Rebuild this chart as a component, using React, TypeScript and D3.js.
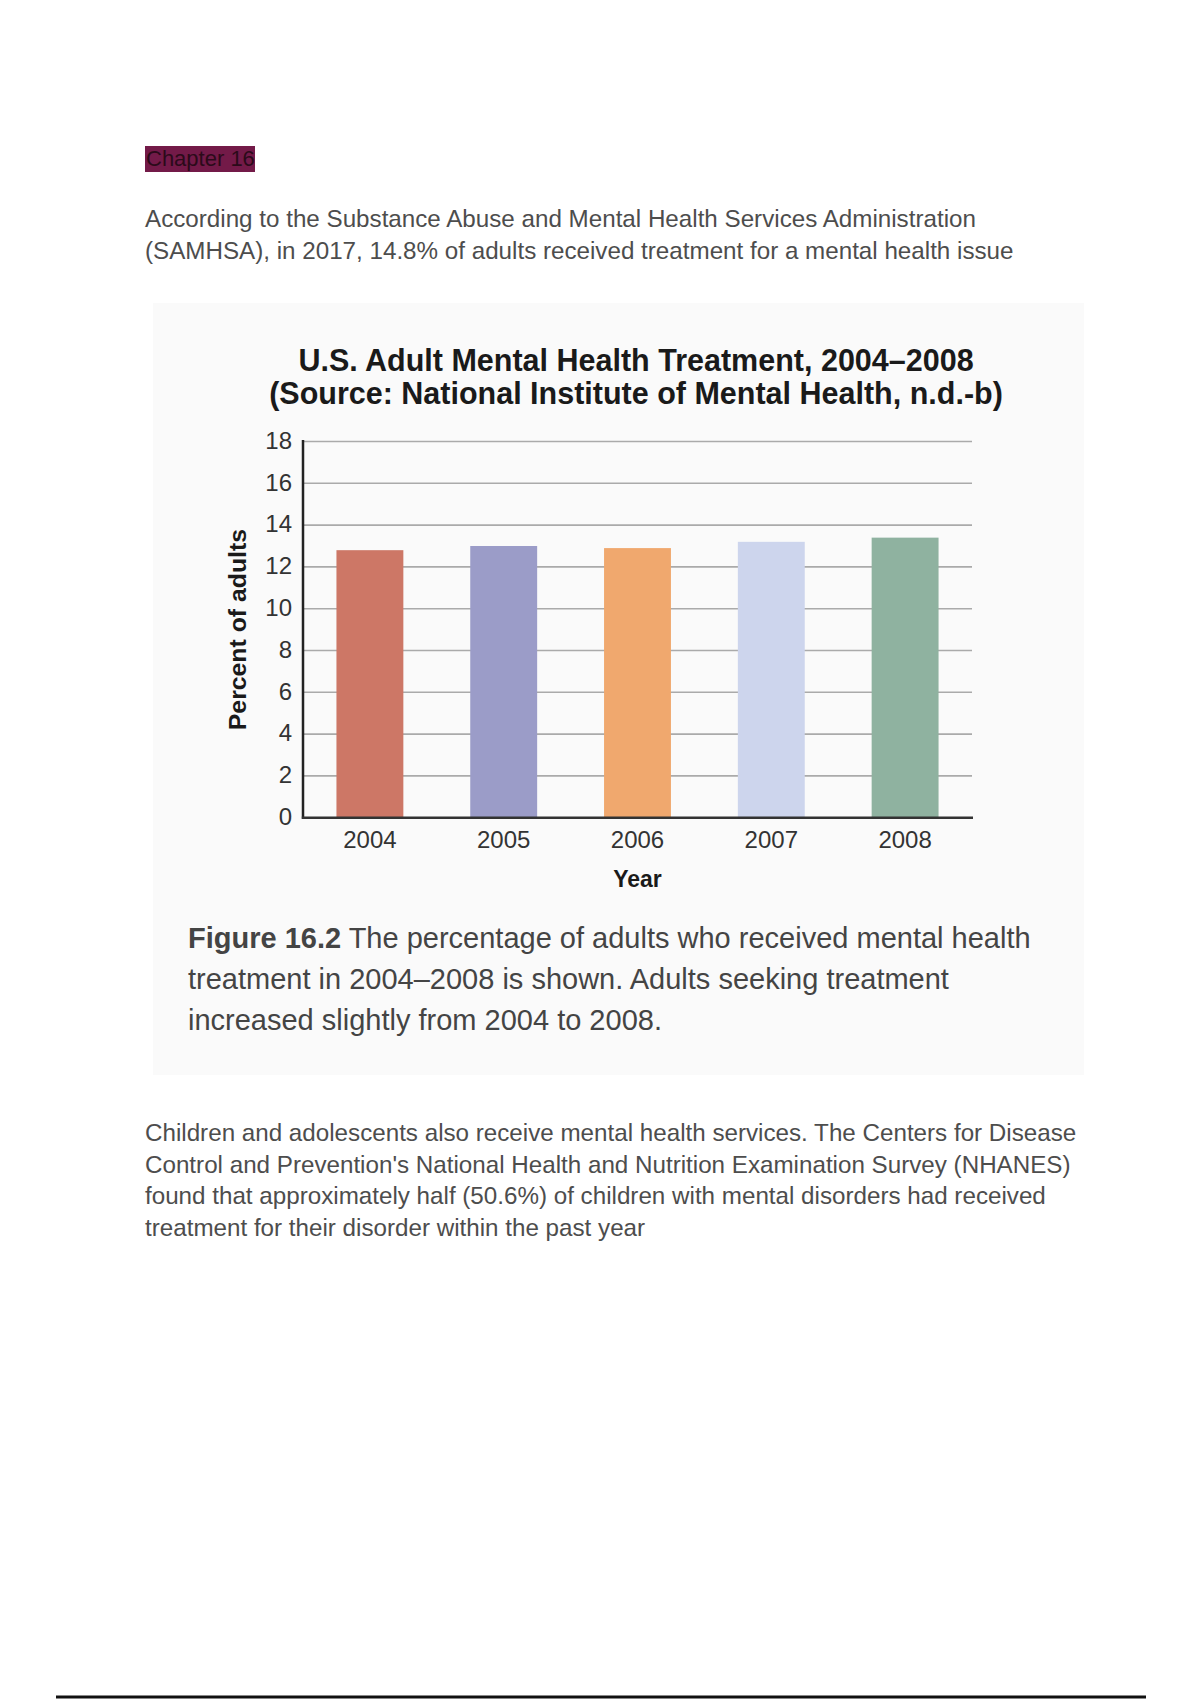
import React from "react";
import * as d3 from "d3";

// ---- Data ----
const years: string[] = ["2004", "2005", "2006", "2007", "2008"];
const percents: number[] = [12.8, 13.0, 12.9, 13.2, 13.4];
const barColors: string[] = ["#cd7766", "#9b9cc8", "#f0a86e", "#cdd5ed", "#8fb2a0"];
const yDomain: [number, number] = [0, 18];

const chartTitle: string[] = [
  "U.S. Adult Mental Health Treatment, 2004–2008",
  "(Source: National Institute of Mental Health, n.d.-b)",
];
const yLabel = "Percent of adults";
const xLabel = "Year";
const chapterLabel = "Chapter 16";
const introLines: string[] = [
  "According to the Substance Abuse and Mental Health Services Administration",
  "(SAMHSA), in 2017, 14.8% of adults received treatment for a mental health issue",
];
const captionBold = "Figure 16.2";
const captionLines: string[] = [
  " The percentage of adults who received mental health",
  "treatment in 2004–2008 is shown. Adults seeking treatment",
  "increased slightly from 2004 to 2008.",
];
const outroLines: string[] = [
  "Children and adolescents also receive mental health services. The Centers for Disease",
  "Control and Prevention's National Health and Nutrition Examination Survey (NHANES)",
  "found that approximately half (50.6%) of children with mental disorders had received",
  "treatment for their disorder within the past year",
];

const FONT = "'Liberation Sans', Arial, Helvetica, sans-serif";

export default function App() {
  const plotLeft = 303;
  const plotRight = 972;
  const plotBottom = 817.7;
  const plotTop = 441.5;

  const x = d3
    .scaleBand<string>()
    .domain(years)
    .range([plotLeft, plotRight])
    .paddingInner(0.5)
    .paddingOuter(0.25);
  const y = d3.scaleLinear().domain(yDomain).range([plotBottom, plotTop]);
  const yTicks = y.ticks(9);

  return (
    <div style={{ position: "absolute", left: 0, top: 0 }}>
      <svg width={1200} height={1700} style={{ display: "block" }} fontFamily={FONT}>
        <rect x={0} y={0} width={1200} height={1700} fill="#ffffff" />

        {/* Chapter label */}
        <rect x={145} y={146} width={110} height={26} fill="#731a48" />
        <text x={146} y={166} fontSize={22} fill="#2b0a1a">
          {chapterLabel}
        </text>

        {/* Intro paragraph */}
        {introLines.map((line, i) => (
          <text key={"in" + i} x={145} y={226.5 + i * 32} fontSize={24.2} fill="#4d4d4d">
            {line}
          </text>
        ))}

        {/* Figure panel */}
        <rect x={153} y={303} width={931} height={772} fill="#fafafa" />

        {/* Title */}
        {chartTitle.map((line, i) => (
          <text
            key={"t" + i}
            x={636}
            y={371 + i * 33}
            textAnchor="middle"
            fontSize={30.5}
            fontWeight="bold"
            fill="#1a1a1a"
          >
            {line}
          </text>
        ))}

        {/* Gridlines */}
        {yTicks
          .filter((t) => t !== 0)
          .map((t) => (
            <line
              key={"g" + t}
              x1={plotLeft}
              x2={plotRight}
              y1={y(t)}
              y2={y(t)}
              stroke="#aaaaaa"
              strokeWidth={1.6}
            />
          ))}

        {/* Bars */}
        {years.map((yr, i) => (
          <rect
            key={"b" + yr}
            x={x(yr)}
            y={y(percents[i])}
            width={x.bandwidth()}
            height={plotBottom - y(percents[i])}
            fill={barColors[i]}
          />
        ))}

        {/* Axes */}
        <line x1={plotLeft} x2={plotLeft} y1={plotTop - 1.5} y2={plotBottom + 1} stroke="#222" strokeWidth={2.5} />
        <line x1={plotLeft - 1.2} x2={plotRight + 1} y1={plotBottom} y2={plotBottom} stroke="#333" strokeWidth={2.5} />

        {/* Y tick labels */}
        {yTicks.map((t) => (
          <text
            key={"yt" + t}
            x={292}
            y={y(t)}
            dy="0.3em"
            textAnchor="end"
            fontSize={24}
            fill="#333"
          >
            {t}
          </text>
        ))}

        {/* X tick labels */}
        {years.map((yr) => (
          <text
            key={"xt" + yr}
            x={(x(yr) as number) + x.bandwidth() / 2}
            y={848}
            textAnchor="middle"
            fontSize={24}
            fill="#333"
          >
            {yr}
          </text>
        ))}

        {/* Axis labels */}
        <text
          x={(plotLeft + plotRight) / 2}
          y={887}
          textAnchor="middle"
          fontSize={23}
          fontWeight="bold"
          fill="#1a1a1a"
        >
          {xLabel}
        </text>
        <text
          transform={`translate(246, ${(plotTop + plotBottom) / 2}) rotate(-90)`}
          textAnchor="middle"
          fontSize={24.8}
          fontWeight="bold"
          fill="#1a1a1a"
        >
          {yLabel}
        </text>

        {/* Caption */}
        {captionLines.map((line, i) => (
          <text key={"c" + i} x={188} y={948 + i * 41} fontSize={29} fill="#444">
            {i === 0 ? (
              <>
                <tspan fontWeight="bold">{captionBold}</tspan>
                <tspan>{line}</tspan>
              </>
            ) : (
              line
            )}
          </text>
        ))}

        {/* Outro paragraph */}
        {outroLines.map((line, i) => (
          <text key={"out" + i} x={145} y={1141 + i * 31.5} fontSize={24.2} fill="#4d4d4d">
            {line}
          </text>
        ))}

        {/* Bottom rule */}
        <line x1={56} x2={1146} y1={1697} y2={1697} stroke="#111" strokeWidth={3} />
      </svg>
    </div>
  );
}
